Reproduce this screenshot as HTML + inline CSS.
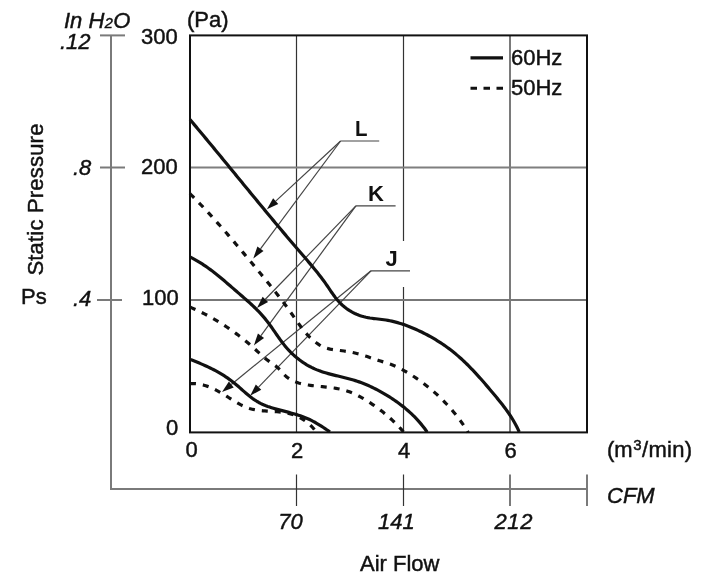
<!DOCTYPE html>
<html><head><meta charset="utf-8"><style>
html,body{margin:0;padding:0;background:#fff;}
svg{display:block;filter:grayscale(1);}
text{-webkit-font-smoothing:antialiased;}
</style></head><body>
<svg width="710" height="583" viewBox="0 0 710 583">
<rect width="710" height="583" fill="#fff"/>
<g opacity="0.999">
<!-- grid -->
<g fill="none">
<line x1="296.5" y1="35" x2="296.5" y2="432" stroke="#333" stroke-width="1.2"/>
<line x1="403.5" y1="35" x2="403.5" y2="241" stroke="#333" stroke-width="1.2"/>
<line x1="403.5" y1="287" x2="403.5" y2="432" stroke="#333" stroke-width="1.2"/>
<line x1="510" y1="35" x2="510" y2="432" stroke="#7a7a7a" stroke-width="2"/>
<line x1="190" y1="167.6" x2="587" y2="167.6" stroke="#7f7f7f" stroke-width="2"/>
<line x1="190" y1="300" x2="587" y2="300" stroke="#777" stroke-width="2"/>
</g>
<!-- secondary axes -->
<g fill="none" stroke="#7a7a7a" stroke-width="2">
<polyline points="111,35.4 111,489 587,489"/>
<line x1="100" y1="35.4" x2="125" y2="35.4"/>
<line x1="100" y1="167.5" x2="125" y2="167.5"/>
<line x1="97" y1="300" x2="122" y2="300"/>
<line x1="587" y1="474.5" x2="587" y2="506"/>
<line x1="510" y1="474.5" x2="510" y2="506"/>
</g>
<g fill="none" stroke="#333" stroke-width="1.2">
<line x1="296.5" y1="474.5" x2="296.5" y2="506"/>
<line x1="403.5" y1="474.5" x2="403.5" y2="506"/>
</g>
<!-- leader lines -->
<g fill="none" stroke="#444" stroke-width="1.2">
<polyline points="379.2,141 340.6,141"/>
<polyline points="395.6,205.9 355.9,205.9"/>
<polyline points="410,270.8 371,270.8"/>
<line x1="340.60" y1="141.00" x2="275.70" y2="201.14"/><line x1="340.60" y1="141.00" x2="260.46" y2="248.77"/><line x1="355.90" y1="205.90" x2="265.35" y2="299.28"/><line x1="355.90" y1="205.90" x2="260.98" y2="335.71"/><line x1="371.00" y1="270.80" x2="258.54" y2="387.07"/><line x1="371.00" y1="270.80" x2="231.31" y2="384.43"/>
</g>
<g fill="#111" stroke="none"><polygon points="266.90,209.30 273.12,198.36 278.28,203.93"/><polygon points="253.30,258.40 257.41,246.50 263.51,251.04"/><polygon points="257.00,307.90 262.63,296.64 268.08,301.93"/><polygon points="253.90,345.40 257.92,333.47 264.05,337.96"/><polygon points="250.20,395.70 255.81,384.43 261.27,389.72"/><polygon points="222.00,392.00 228.91,381.48 233.71,387.38"/></g>
<!-- curves -->
<g fill="none" stroke="#111" stroke-width="3.2" stroke-linejoin="round">
<path d="M189.99,119.53 L191.27,121.05 L192.55,122.58 L193.83,124.10 L195.11,125.62 L196.39,127.15 L197.66,128.67 L198.94,130.20 L200.22,131.73 L201.49,133.26 L202.77,134.79 L204.04,136.33 L205.32,137.86 L206.59,139.39 L207.87,140.93 L209.14,142.46 L210.41,144.00 L211.68,145.54 L212.95,147.08 L214.22,148.62 L215.49,150.16 L216.76,151.70 L218.03,153.24 L219.30,154.78 L220.57,156.32 L221.84,157.87 L223.11,159.41 L224.38,160.96 L225.65,162.50 L226.92,164.04 L228.18,165.59 L229.45,167.14 L230.72,168.68 L231.99,170.23 L233.25,171.77 L234.52,173.32 L235.79,174.87 L237.06,176.41 L238.32,177.96 L239.59,179.51 L240.86,181.05 L242.13,182.60 L243.39,184.15 L244.66,185.69 L245.93,187.24 L247.20,188.79 L248.47,190.33 L249.74,191.88 L251.00,193.42 L252.27,194.97 L253.54,196.51 L254.81,198.06 L256.08,199.60 L257.35,201.14 L258.62,202.69 L259.90,204.23 L261.17,205.77 L262.44,207.31 L263.71,208.85 L264.99,210.39 L266.26,211.93 L267.53,213.47 L268.81,215.00 L270.08,216.54 L271.36,218.08 L272.64,219.61 L273.91,221.14 L275.19,222.68 L276.47,224.21 L277.75,225.74 L279.03,227.27 L280.31,228.79 L281.59,230.32 L282.87,231.85 L284.16,233.37 L285.44,234.89 L286.73,236.42 L288.01,237.94 L289.30,239.45 L290.59,240.97 L291.88,242.49 L293.17,244.00 L294.46,245.51 L295.75,247.03 L297.04,248.54 L298.34,250.04 L299.63,251.55 L300.93,253.05 L302.23,254.56 L303.52,256.06 L304.82,257.56 L306.11,259.07 L307.41,260.58 L308.70,262.09 L309.98,263.60 L311.26,265.12 L312.54,266.65 L313.81,268.18 L315.07,269.72 L316.33,271.27 L317.58,272.83 L318.82,274.40 L320.04,275.98 L321.26,277.57 L322.47,279.18 L323.67,280.80 L324.85,282.43 L326.02,284.08 L327.17,285.75 L328.32,287.43 L329.46,289.12 L330.60,290.81 L331.74,292.48 L332.91,294.15 L334.09,295.79 L335.29,297.40 L336.53,298.98 L337.81,300.51 L339.13,301.99 L340.49,303.42 L341.91,304.78 L343.38,306.09 L344.89,307.33 L346.45,308.52 L348.04,309.64 L349.68,310.70 L351.36,311.69 L353.08,312.62 L354.83,313.49 L356.62,314.28 L358.43,315.01 L360.28,315.68 L362.16,316.27 L364.06,316.80 L365.99,317.25 L367.94,317.64 L369.90,317.98 L371.89,318.28 L373.88,318.54 L375.89,318.78 L377.89,319.01 L379.90,319.24 L381.91,319.48 L383.91,319.74 L385.90,320.04 L387.88,320.37 L389.84,320.75 L391.80,321.16 L393.74,321.61 L395.67,322.10 L397.59,322.62 L399.50,323.18 L401.40,323.77 L403.29,324.39 L405.17,325.04 L407.04,325.72 L408.89,326.42 L410.74,327.16 L412.58,327.92 L414.42,328.70 L416.24,329.51 L418.05,330.34 L419.86,331.19 L421.66,332.06 L423.45,332.95 L425.23,333.86 L427.00,334.79 L428.76,335.73 L430.51,336.70 L432.26,337.69 L433.99,338.69 L435.70,339.72 L437.41,340.77 L439.10,341.83 L440.78,342.92 L442.45,344.02 L444.10,345.15 L445.74,346.29 L447.36,347.45 L448.97,348.64 L450.56,349.84 L452.13,351.06 L453.69,352.31 L455.23,353.57 L456.75,354.85 L458.26,356.15 L459.76,357.46 L461.24,358.80 L462.70,360.14 L464.15,361.51 L465.59,362.88 L467.02,364.27 L468.43,365.68 L469.84,367.09 L471.23,368.52 L472.61,369.96 L473.98,371.41 L475.35,372.87 L476.70,374.34 L478.05,375.82 L479.38,377.31 L480.71,378.80 L482.04,380.30 L483.35,381.81 L484.67,383.32 L485.97,384.84 L487.27,386.36 L488.57,387.89 L489.86,389.42 L491.15,390.95 L492.44,392.48 L493.72,394.01 L495.00,395.55 L496.27,397.08 L497.54,398.63 L498.80,400.17 L500.05,401.73 L501.29,403.29 L502.52,404.86 L503.73,406.44 L504.93,408.02 L506.11,409.63 L507.27,411.24 L508.41,412.87 L509.53,414.51 L510.63,416.17 L511.70,417.84 L512.74,419.54 L513.76,421.25 L514.75,422.98 L515.71,424.74 L516.64,426.52 L517.53,428.32 L518.39,430.15 L519.21,432.00"/>
<path d="M189.98,257.00 L191.79,257.91 L193.57,258.85 L195.33,259.82 L197.08,260.81 L198.80,261.83 L200.50,262.88 L202.19,263.95 L203.85,265.04 L205.50,266.15 L207.14,267.29 L208.76,268.44 L210.36,269.62 L211.96,270.81 L213.54,272.01 L215.11,273.23 L216.67,274.47 L218.22,275.72 L219.76,276.98 L221.30,278.25 L222.83,279.53 L224.35,280.81 L225.87,282.11 L227.39,283.41 L228.90,284.72 L230.41,286.03 L231.92,287.34 L233.43,288.65 L234.94,289.97 L236.46,291.28 L237.97,292.59 L239.49,293.90 L241.00,295.21 L242.52,296.53 L244.03,297.84 L245.53,299.16 L247.03,300.49 L248.53,301.82 L250.01,303.17 L251.48,304.52 L252.94,305.88 L254.38,307.26 L255.81,308.65 L257.22,310.05 L258.61,311.47 L259.97,312.91 L261.32,314.37 L262.64,315.85 L263.94,317.34 L265.21,318.87 L266.45,320.41 L267.67,321.98 L268.86,323.57 L270.04,325.17 L271.20,326.79 L272.35,328.42 L273.49,330.05 L274.62,331.69 L275.76,333.34 L276.89,334.98 L278.03,336.61 L279.19,338.24 L280.35,339.86 L281.53,341.47 L282.74,343.06 L283.96,344.63 L285.21,346.18 L286.50,347.71 L287.82,349.21 L289.17,350.68 L290.57,352.12 L292.00,353.52 L293.47,354.89 L294.98,356.23 L296.51,357.53 L298.08,358.79 L299.68,360.02 L301.31,361.20 L302.96,362.35 L304.64,363.46 L306.34,364.52 L308.07,365.54 L309.81,366.51 L311.58,367.43 L313.37,368.30 L315.18,369.12 L317.01,369.88 L318.86,370.60 L320.72,371.27 L322.60,371.91 L324.49,372.51 L326.39,373.07 L328.30,373.62 L330.22,374.13 L332.14,374.63 L334.08,375.12 L336.02,375.59 L337.96,376.06 L339.90,376.52 L341.84,376.99 L343.78,377.46 L345.72,377.94 L347.66,378.43 L349.59,378.94 L351.51,379.47 L353.43,380.03 L355.33,380.62 L357.23,381.23 L359.11,381.88 L360.98,382.56 L362.85,383.27 L364.70,384.01 L366.54,384.78 L368.37,385.57 L370.19,386.39 L372.00,387.24 L373.79,388.11 L375.58,389.00 L377.35,389.92 L379.12,390.86 L380.87,391.82 L382.62,392.81 L384.35,393.81 L386.07,394.83 L387.78,395.87 L389.48,396.93 L391.16,398.01 L392.83,399.11 L394.49,400.23 L396.13,401.36 L397.76,402.52 L399.37,403.70 L400.97,404.91 L402.54,406.13 L404.10,407.37 L405.64,408.64 L407.16,409.93 L408.66,411.24 L410.15,412.57 L411.60,413.93 L413.04,415.31 L414.45,416.71 L415.84,418.14 L417.21,419.59 L418.55,421.07 L419.87,422.57 L421.16,424.09 L422.42,425.64 L423.66,427.22 L424.86,428.82 L426.04,430.45 L427.19,432.11"/>
<path d="M190.03,359.42 L191.89,360.12 L193.75,360.84 L195.60,361.57 L197.45,362.32 L199.30,363.08 L201.13,363.85 L202.96,364.64 L204.78,365.45 L206.60,366.27 L208.40,367.11 L210.19,367.98 L211.98,368.86 L213.75,369.77 L215.51,370.70 L217.25,371.65 L218.98,372.63 L220.70,373.63 L222.40,374.66 L224.09,375.72 L225.75,376.80 L227.41,377.92 L229.04,379.07 L230.65,380.24 L232.24,381.45 L233.82,382.70 L235.37,383.97 L236.91,385.27 L238.44,386.58 L239.95,387.91 L241.47,389.25 L242.98,390.58 L244.49,391.90 L246.01,393.22 L247.54,394.51 L249.09,395.77 L250.64,397.01 L252.22,398.21 L253.82,399.36 L255.45,400.46 L257.11,401.50 L258.81,402.49 L260.54,403.40 L262.30,404.25 L264.10,405.04 L265.92,405.78 L267.77,406.47 L269.65,407.11 L271.54,407.72 L273.45,408.30 L275.37,408.85 L277.30,409.38 L279.23,409.90 L281.18,410.41 L283.12,410.91 L285.06,411.41 L287.00,411.91 L288.93,412.42 L290.86,412.95 L292.78,413.48 L294.69,414.04 L296.60,414.61 L298.49,415.21 L300.38,415.84 L302.25,416.50 L304.10,417.20 L305.95,417.93 L307.77,418.71 L309.58,419.54 L311.37,420.41 L313.14,421.33 L314.89,422.28 L316.63,423.27 L318.35,424.29 L320.05,425.34 L321.74,426.41 L323.42,427.51 L325.08,428.63 L326.72,429.76 L328.35,430.91 L329.97,432.06"/>
</g>
<g fill="none" stroke="#111" stroke-width="3.2" stroke-dasharray="6 7">
<path d="M189.92,193.61 L191.32,195.02 L192.73,196.43 L194.12,197.84 L195.52,199.26 L196.91,200.68 L198.29,202.11 L199.67,203.55 L201.05,204.99 L202.42,206.43 L203.79,207.88 L205.15,209.33 L206.51,210.79 L207.87,212.25 L209.22,213.71 L210.57,215.18 L211.92,216.65 L213.26,218.13 L214.60,219.61 L215.93,221.09 L217.27,222.58 L218.60,224.07 L219.92,225.56 L221.24,227.06 L222.56,228.56 L223.88,230.06 L225.20,231.56 L226.51,233.07 L227.82,234.58 L229.12,236.09 L230.43,237.61 L231.73,239.12 L233.02,240.64 L234.32,242.16 L235.61,243.68 L236.91,245.21 L238.20,246.73 L239.48,248.26 L240.77,249.79 L242.05,251.32 L243.33,252.85 L244.61,254.38 L245.89,255.91 L247.17,257.45 L248.44,258.98 L249.71,260.52 L250.99,262.05 L252.26,263.59 L253.53,265.12 L254.79,266.66 L256.06,268.19 L257.33,269.73 L258.59,271.27 L259.85,272.80 L261.12,274.34 L262.38,275.87 L263.64,277.41 L264.90,278.94 L266.15,280.48 L267.41,282.02 L268.66,283.56 L269.91,285.11 L271.16,286.65 L272.40,288.20 L273.64,289.75 L274.88,291.31 L276.11,292.87 L277.34,294.44 L278.56,296.01 L279.78,297.58 L281.00,299.16 L282.21,300.75 L283.41,302.35 L284.61,303.95 L285.80,305.56 L286.99,307.17 L288.17,308.80 L289.34,310.43 L290.51,312.07 L291.67,313.72 L292.83,315.38 L293.98,317.04 L295.13,318.71 L296.28,320.37 L297.44,322.03 L298.61,323.68 L299.79,325.31 L300.98,326.93 L302.19,328.53 L303.42,330.10 L304.68,331.65 L305.97,333.16 L307.28,334.64 L308.63,336.08 L310.01,337.48 L311.43,338.84 L312.90,340.14 L314.41,341.39 L315.97,342.58 L317.58,343.71 L319.24,344.77 L320.95,345.75 L322.71,346.63 L324.51,347.42 L326.36,348.09 L328.26,348.64 L330.19,349.09 L332.15,349.45 L334.14,349.76 L336.14,350.02 L338.14,350.26 L340.14,350.50 L342.13,350.76 L344.12,351.04 L346.09,351.34 L348.06,351.66 L350.02,352.01 L351.97,352.38 L353.91,352.79 L355.84,353.22 L357.76,353.69 L359.68,354.19 L361.58,354.72 L363.48,355.30 L365.37,355.92 L367.25,356.57 L369.13,357.24 L371.01,357.92 L372.89,358.59 L374.78,359.25 L376.68,359.87 L378.59,360.47 L380.51,361.05 L382.43,361.62 L384.34,362.20 L386.25,362.80 L388.14,363.43 L390.01,364.09 L391.87,364.80 L393.70,365.55 L395.52,366.33 L397.33,367.16 L399.11,368.01 L400.88,368.90 L402.64,369.83 L404.38,370.78 L406.10,371.76 L407.81,372.76 L409.51,373.79 L411.20,374.84 L412.88,375.92 L414.54,377.01 L416.19,378.12 L417.84,379.25 L419.47,380.40 L421.08,381.56 L422.69,382.75 L424.28,383.95 L425.86,385.17 L427.43,386.40 L428.98,387.66 L430.52,388.93 L432.05,390.22 L433.56,391.52 L435.06,392.84 L436.55,394.18 L438.02,395.54 L439.47,396.91 L440.91,398.29 L442.33,399.70 L443.74,401.11 L445.13,402.55 L446.51,403.99 L447.87,405.46 L449.21,406.93 L450.54,408.43 L451.85,409.93 L453.14,411.46 L454.41,412.99 L455.67,414.54 L456.91,416.10 L458.13,417.68 L459.33,419.27 L460.51,420.88 L461.68,422.49 L462.82,424.12 L463.95,425.77 L465.05,427.42 L466.13,429.09 L467.20,430.77 L468.24,432.46"/>
<path d="M189.94,307.08 L191.79,307.87 L193.62,308.67 L195.45,309.49 L197.27,310.33 L199.08,311.18 L200.88,312.06 L202.67,312.94 L204.45,313.84 L206.23,314.76 L207.99,315.70 L209.74,316.65 L211.49,317.61 L213.22,318.60 L214.94,319.59 L216.66,320.60 L218.37,321.63 L220.06,322.67 L221.75,323.73 L223.43,324.80 L225.09,325.88 L226.75,326.98 L228.40,328.10 L230.04,329.23 L231.67,330.37 L233.29,331.53 L234.90,332.69 L236.50,333.88 L238.09,335.08 L239.68,336.29 L241.25,337.51 L242.81,338.75 L244.37,340.00 L245.91,341.26 L247.44,342.53 L248.97,343.82 L250.48,345.12 L251.99,346.43 L253.49,347.76 L254.97,349.10 L256.45,350.44 L257.92,351.80 L259.40,353.15 L260.88,354.49 L262.36,355.82 L263.87,357.13 L265.39,358.41 L266.93,359.65 L268.50,360.86 L270.10,362.02 L271.74,363.14 L273.37,364.26 L274.99,365.41 L276.55,366.65 L278.03,368.00 L279.45,369.44 L280.83,370.95 L282.20,372.47 L283.58,373.97 L284.99,375.40 L286.46,376.74 L288.00,377.95 L289.62,379.04 L291.30,380.02 L293.03,380.89 L294.82,381.66 L296.66,382.35 L298.54,382.95 L300.45,383.48 L302.39,383.95 L304.35,384.36 L306.33,384.72 L308.31,385.04 L310.30,385.32 L312.30,385.58 L314.29,385.82 L316.29,386.04 L318.28,386.24 L320.28,386.44 L322.27,386.64 L324.26,386.84 L326.24,387.04 L328.23,387.26 L330.20,387.49 L332.17,387.75 L334.13,388.03 L336.08,388.35 L338.03,388.70 L339.96,389.10 L341.88,389.54 L343.79,390.03 L345.69,390.58 L347.58,391.19 L349.45,391.86 L351.30,392.59 L353.14,393.36 L354.97,394.19 L356.78,395.05 L358.57,395.96 L360.35,396.91 L362.12,397.89 L363.87,398.90 L365.60,399.94 L367.31,401.01 L369.01,402.09 L370.69,403.19 L372.36,404.31 L374.00,405.44 L375.63,406.59 L377.25,407.75 L378.84,408.94 L380.42,410.14 L381.99,411.36 L383.53,412.59 L385.06,413.85 L386.58,415.12 L388.08,416.42 L389.56,417.73 L391.03,419.06 L392.49,420.41 L393.92,421.78 L395.35,423.17 L396.76,424.59 L398.15,426.02 L399.53,427.48 L400.89,428.95 L402.24,430.45 L403.58,431.98"/>
<path d="M189.96,383.57 L192.05,383.52 L194.11,383.57 L196.13,383.72 L198.12,383.96 L200.08,384.28 L202.01,384.69 L203.91,385.18 L205.79,385.74 L207.64,386.37 L209.48,387.06 L211.29,387.81 L213.08,388.61 L214.85,389.47 L216.61,390.37 L218.35,391.30 L220.08,392.28 L221.79,393.28 L223.50,394.31 L225.20,395.36 L226.90,396.42 L228.59,397.50 L230.27,398.57 L231.96,399.64 L233.65,400.70 L235.35,401.74 L237.06,402.75 L238.78,403.72 L240.51,404.66 L242.26,405.54 L244.03,406.37 L245.82,407.12 L247.63,407.81 L249.47,408.42 L251.34,408.95 L253.23,409.40 L255.15,409.79 L257.09,410.11 L259.04,410.38 L261.00,410.61 L262.98,410.80 L264.97,410.95 L266.96,411.09 L268.96,411.20 L270.96,411.32 L272.97,411.43 L274.97,411.56 L276.97,411.71 L278.96,411.88 L280.94,412.09 L282.92,412.34 L284.88,412.65 L286.83,413.01 L288.76,413.45 L290.67,413.96 L292.57,414.54 L294.43,415.20 L296.27,415.93 L298.08,416.74 L299.86,417.62 L301.60,418.57 L303.31,419.60 L304.97,420.70 L306.58,421.87 L308.13,423.12 L309.63,424.43 L311.06,425.81 L312.42,427.26 L313.71,428.77 L314.92,430.35 L316.05,431.99"/>
</g>
<!-- frame -->
<rect x="190" y="35.4" width="397" height="397" fill="none" stroke="#111" stroke-width="2"/>
<!-- legend -->
<line x1="470.5" y1="57.8" x2="503" y2="57.8" stroke="#111" stroke-width="3.2"/>
<line x1="470.5" y1="88.2" x2="503" y2="88.2" stroke="#111" stroke-width="3" stroke-dasharray="6.5 6.5"/>
<g font-family="Liberation Sans, sans-serif" font-size="22" fill="#111" stroke="#111" stroke-width="0.45">
<text x="511" y="65">60Hz</text>
<text x="511" y="95">50Hz</text>
<text x="141" y="43.6">300</text>
<text x="141" y="173.7">200</text>
<text x="142" y="304.5">100</text>
<text x="166" y="434.5">0</text>
<text x="185.5" y="457">0</text>
<text x="291" y="457.5">2</text>
<text x="398" y="457.5">4</text>
<text x="504.5" y="457.5">6</text>
<text x="187" y="27">(Pa)</text>
<text x="607" y="457">(m<tspan font-size="15" dy="-7.5" dx="0.5">3</tspan><tspan dy="7.5" dx="0.5" letter-spacing="0.3">/min)</tspan></text>
<text x="360" y="571">Air Flow</text>
<text x="21" y="303.6">Ps</text>
<text transform="translate(43,275.6) rotate(-90)" letter-spacing="0.2">Static Pressure</text>
</g>
<g font-family="Liberation Sans, sans-serif" font-size="22" font-style="italic" fill="#111" stroke="#111" stroke-width="0.45">
<text x="64" y="28">In H<tspan font-size="14.5" dx="0.5">2</tspan><tspan dx="0.3">O</tspan></text>
<text x="60" y="49">.12</text>
<text x="73" y="174.5">.8</text>
<text x="73" y="306">.4</text>
<text x="607" y="502.5">CFM</text>
<text x="278.3" y="528.5">70</text>
<text x="378" y="528.5">141</text>
<text x="494.5" y="528.5" letter-spacing="0.6">212</text>
</g>
<g font-family="Liberation Sans, sans-serif" font-size="22" font-weight="bold" fill="#111">
<text x="355" y="136" transform="translate(355,0) scale(0.93,1) translate(-355,0)">L</text>
<text x="368" y="200.5">K</text>
<text x="385.5" y="265.5">J</text>
</g>
</g></svg>
</body></html>
